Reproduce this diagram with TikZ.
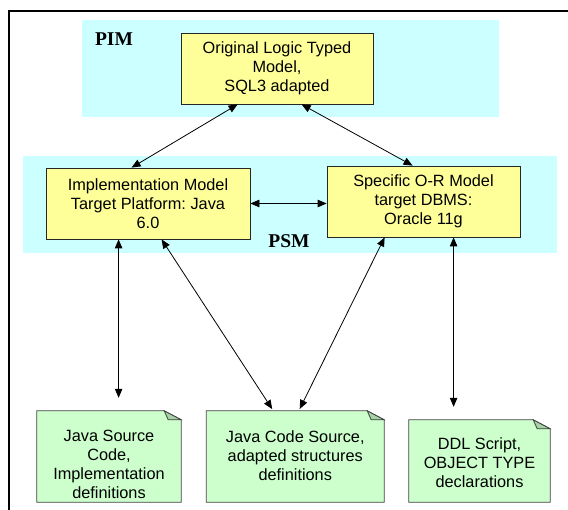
\documentclass[tikz,border=0pt]{standalone}
\usepackage{fontspec}
\setmainfont{Liberation Sans}
\newfontfamily\layerfont{Liberation Serif}
\usetikzlibrary{arrows.meta}
\frenchspacing
\definecolor{bandcyan}{HTML}{CCFFFF}
\definecolor{modelyellow}{HTML}{FFFF99}
\definecolor{notegreen}{HTML}{CCFFCC}
\definecolor{foldgreen}{HTML}{A6D3A6}
\newcommand{\dogear}[1]{%
\fill[white] ([xshift=-17pt]#1.north east) -- (#1.north east) -- ([yshift=-9pt]#1.north east) -- cycle;
\draw[black!75, line width=0.8pt] (#1.north west) -- ([xshift=-17pt]#1.north east) -- ([yshift=-9pt]#1.north east) -- (#1.south east) -- (#1.south west) -- cycle;
\filldraw[fill=foldgreen, draw=black!75, line width=0.8pt] ([xshift=-17pt]#1.north east) -- ([xshift=-13pt,yshift=-9pt]#1.north east) -- ([yshift=-9pt]#1.north east) -- cycle;}
\begin{document}
\begin{tikzpicture}[x=1pt,y=-1pt]
\tikzstyle{every node}=[font=\fontsize{16.3}{19}\selectfont, align=center, inner sep=0pt]
\tikzstyle{model}=[draw=black!85, line width=0.8pt, fill=modelyellow, minimum height=71pt]
\tikzstyle{note}=[fill=notegreen, minimum height=91pt]
\tikzstyle{layer}=[font={\layerfont\bfseries\fontsize{19.5}{22}\selectfont}]
\tikzstyle{link}=[{Triangle[length=9pt,width=7.5pt]}-{Triangle[length=9pt,width=7.5pt]}, line width=0.8pt]

\useasboundingbox (0,0) rectangle (568,510);
\fill[bandcyan] (82,20) rectangle (499,117);
\fill[bandcyan] (23,156) rectangle (557,253);
\draw[line width=2pt] (9,510) -- (9,11) -- (568,11);

\draw (114,39) node (pim) [layer] {PIM};
\draw (289,241) node (psm) [layer] {PSM};

\draw (277,68.5) node (plm) [model, minimum width=192pt] {Original Logic Typed\\Model,\\SQL3 adapted};
\draw (148,203.5) node (impl) [model, minimum width=204pt] {Implementation Model\\Target Platform: Java\\6.0};
\draw (423.5,201.5) node (orm) [model, minimum width=193pt] {Specific O-R Model\\target DBMS:\\Oracle 11g};

\draw (109,456.5) node (javasrc) [note, minimum width=144pt, label={[yshift=-8pt]center:{Java Source\\Code,\\Implementation\\definitions}}] {};
\draw (295.25,456.5) node (javacode) [note, minimum width=177.5pt, label={[yshift=1pt]center:{Java Code Source,\\adapted structures\\definitions}}] {};
\draw (479.5,461) node (ddl) [note, minimum width=141pt, minimum height=82pt, label={[yshift=-2pt]center:{DDL Script,\\OBJECT TYPE\\declarations}}] {};
\dogear{javasrc}
\dogear{javacode}
\dogear{ddl}

\draw [link] ([xshift=57pt]plm.south west) -- ([xshift=86pt]impl.north west);
\draw [link] ([xshift=121pt]plm.south west) -- ([xshift=86pt]orm.north west);
\draw [link] (impl.east) -- (impl.east -| orm.west);
\draw [link, shorten >=13pt] ([xshift=73pt]impl.south west) -- ([xshift=73pt]impl.south west |- javasrc.north);
\draw [link, shorten >=2pt] ([xshift=116pt]impl.south west) -- ([xshift=67pt]javacode.north west);
\draw [link, shorten >=2pt] ([xshift=58pt]orm.south west) -- ([xshift=92.5pt]javacode.north west);
\draw [link, shorten >=13pt] ([xshift=127pt]orm.south west) -- ([xshift=127pt]orm.south west |- ddl.north);
\end{tikzpicture}
\end{document}
